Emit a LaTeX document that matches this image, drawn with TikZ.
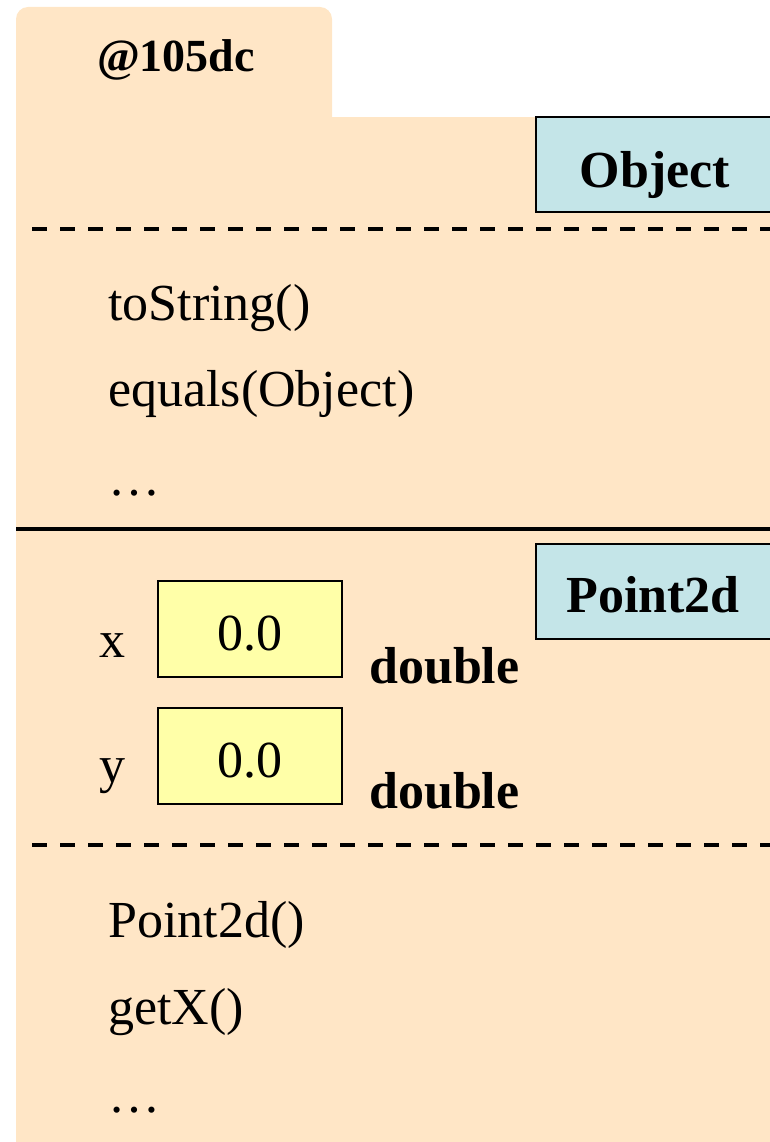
\documentclass[tikz,border=0pt]{standalone}
\usepackage{fontspec}
\setmainfont{Liberation Serif}
\definecolor{objbg}{HTML}{FFE6C6}
\definecolor{clsbg}{HTML}{C4E5E8}
\definecolor{valbg}{HTML}{FFFFA8}
\begin{document}
\begin{tikzpicture}[x=1pt,y=-1pt,
  txt/.style={anchor=base west,inner sep=0pt,font=\fontsize{52}{60}\selectfont},
  bold/.style={txt,font=\fontsize{52}{60}\selectfont\bfseries},
  clsbox/.style={draw=black,line width=2pt,fill=clsbg},
  valbox/.style={draw=black,line width=2pt,fill=valbg},
  sep/.style={line width=4pt,dash pattern=on 15pt off 13pt},
  rule/.style={line width=3.5pt}]
\useasboundingbox (0,0) rectangle (770,1142);
\clip (0,0) rectangle (770,1142);

% object frame: tab and body
\fill[objbg,rounded corners=12pt] (16,140) -- (16,7) -- (332,7) -- (332,140) -- cycle;
\fill[objbg] (16,117) rectangle (780,1160);
\node[anchor=base,inner sep=0pt,font=\fontsize{46}{54}\selectfont\bfseries] (addr) at (176,72) {@105dc};

% Object section
\draw[clsbox] (536,117) rectangle (790,212);
\node[bold,anchor=base] (objname) at (655,187) {Object};
\coordinate (s1a) at (32,229);
\coordinate (s1b) at (780,229);
\draw[sep] (s1a) -- (s1b);
\node[txt] (m1) at (108,320) {toString()};
\node[txt] (m2) at (108,406) {equals(Object)};
\node[txt] (m3) at (108,495) {\ldots};

\coordinate (r1a) at (16,529);
\coordinate (r1b) at (780,529);
\draw[rule] (r1a) -- (r1b);

% Point2d section
\draw[clsbox] (536,544) rectangle (790,639);
\node[bold,anchor=base] (ptname) at (653,612) {Point2d};

\node[valbox,minimum width=184pt,minimum height=96pt] (xv) at (250,629) {};
\node[txt,anchor=base] (xval) at (250,650) {0.0};
\node[txt] (xl) at (99,657) {x};
\node[bold] (xt) at (369,683) {double};

\node[valbox,minimum width=184pt,minimum height=96pt] (yv) at (250,756) {};
\node[txt,anchor=base] (yval) at (250,777) {0.0};
\node[txt] (yl) at (99,782) {y};
\node[bold] (yt) at (369,808) {double};

\coordinate (s2a) at (32,845);
\coordinate (s2b) at (780,845);
\draw[sep] (s2a) -- (s2b);
\node[txt] (m4) at (108,937) {Point2d()};
\node[txt] (m5) at (108,1024) {getX()};
\node[txt] (m6) at (108,1112) {\ldots};
\end{tikzpicture}
\end{document}
